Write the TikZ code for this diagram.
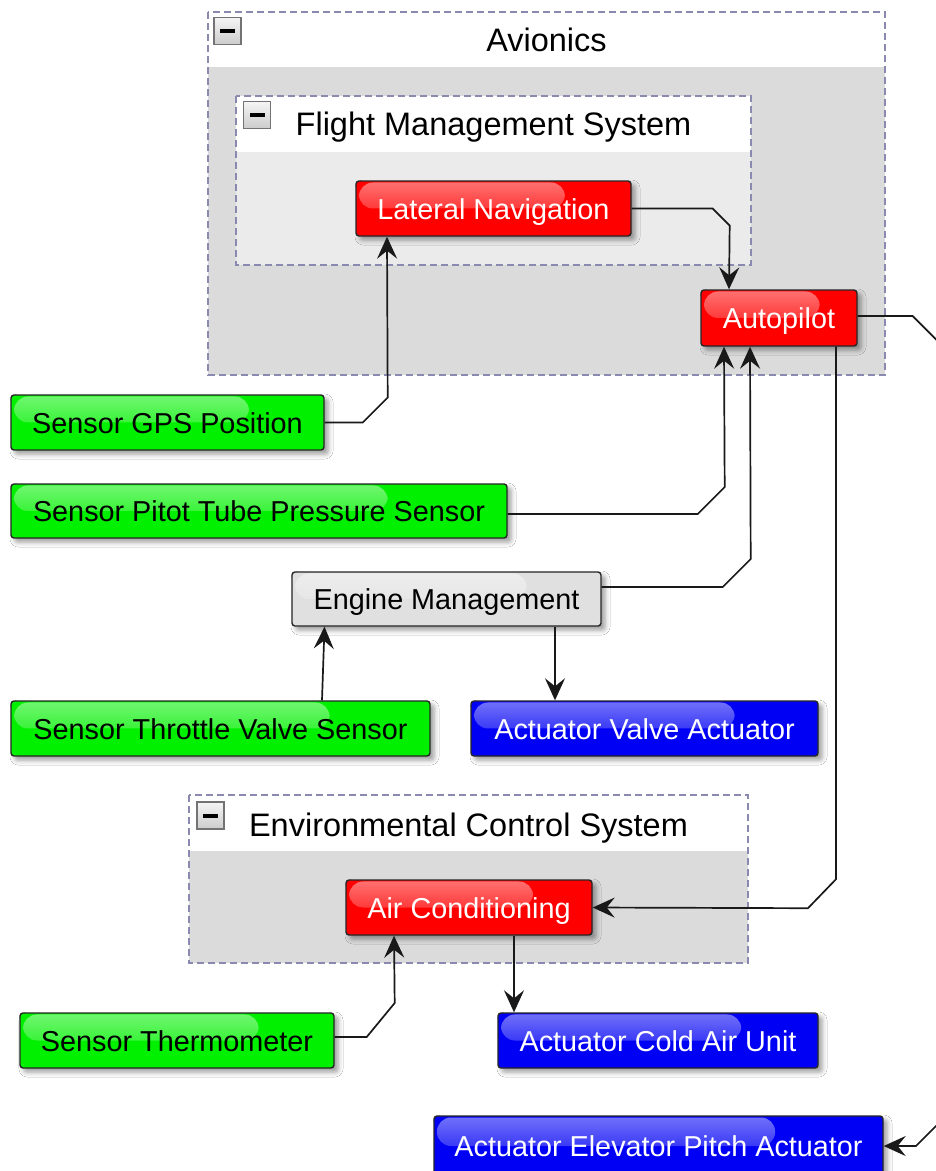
\documentclass[tikz,border=0pt]{standalone}
\usepackage{fontspec}
\setmainfont{Liberation Sans}
\usetikzlibrary{arrows.meta,calc,fadings,shadows.blur}

\tikzfading[name=glossfade, top color=transparent!55, bottom color=transparent!100]

% white glossy highlight across the upper left part of a box
\newcommand{\glossfill}{%
  \fill[white, path fading=glossfade, rounded corners=14pt]
    let \p1=(path picture bounding box.north west),
        \p2=(path picture bounding box.south east) in
    (\x1+3pt,\y1-1.5pt) rectangle ({\x1+0.76*(\x2-\x1)},{\y1+0.5*(\y2-\y1)});}

\tikzset{
  box/.style={rectangle, rounded corners=3pt, draw=black!85, line width=1.4pt,
    inner sep=0pt, minimum height=55pt, text height=21pt, text depth=0pt,
    font=\fontsize{28.8}{34}\selectfont,
    blur shadow={shadow xshift=4pt, shadow yshift=-4pt, shadow blur radius=5pt, shadow opacity=40},
    path picture={\glossfill}},
  redbox/.style={box, fill=red, text=white},
  greenbox/.style={box, fill={rgb,255:red,0;green,240;blue,0}, text=black},
  bluebox/.style={box, fill={rgb,255:red,0;green,0;blue,245}, text=white},
  graybox/.style={box, fill=black!12, text=black},
  groupframe/.style={draw={rgb,255:red,138;green,138;blue,176}, line width=1.3pt,
    dash pattern=on 7pt off 4pt},
  grouptitle/.style={font=\fontsize{32.5}{38}\selectfont, text=black, inner sep=0pt,
    text height=23.3pt, text depth=0pt},
  minusicon/.style={rectangle, minimum size=27pt, inner sep=0pt, line width=1.2pt,
    draw=black!55, top color=black!4, bottom color=black!20,
    path picture={\fill[black]
      ([xshift=-7.5pt,yshift=-2pt]path picture bounding box.center) rectangle
      ([xshift=7.5pt,yshift=2pt]path picture bounding box.center);}},
  conn/.style={line width=1.7pt, black!90,
    -{Stealth[length=22pt, width=20pt, inset=8pt]}}
}

\begin{document}
\begin{tikzpicture}[x=1pt,y=-1pt]
\useasboundingbox (0,0) rectangle (936,1171);
\clip (0,0) rectangle (936,1171);
\fill[white] (0,0) rectangle (936,1171);

% ---- Avionics group
\fill[black!14] (208,12) rectangle (885,375);
\fill[white] (208,12) rectangle (885,67);
\draw[groupframe] (208,12) rectangle (885,375);
\node[grouptitle] (avtitle) at (546.5,40) {Avionics};
\node[minusicon] (avicon) at (227.5,31) {};

% ---- Flight Management System group
\fill[black!8] (236,96) rectangle (751,265);
\fill[white] (236,96) rectangle (751,152);
\draw[groupframe] (236,96) rectangle (751,265);
\node[grouptitle] (fmstitle) at (493.5,124) {Flight Management System};
\node[minusicon] (fmsicon) at (257,115) {};

% ---- Environmental Control System group
\fill[black!14] (189,795) rectangle (748,963);
\fill[white] (189,795) rectangle (748,851);
\draw[groupframe] (189,795) rectangle (748,963);
\node[grouptitle] (ecstitle) at (468.5,825) {Environmental Control System};
\node[minusicon] (ecsicon) at (210.5,815.5) {};

% ---- components
\node[redbox, minimum width=275pt] (latnav) at (493.5,208.5) {Lateral Navigation};
\node[redbox, minimum width=156pt, minimum height=56pt] (autopilot) at (779,318) {Autopilot};
\node[greenbox, minimum width=313pt] (gps) at (167.5,422.5) {Sensor GPS Position};
\node[greenbox, minimum width=496pt, minimum height=54pt] (pitot) at (259,511) {Sensor Pitot Tube Pressure Sensor};
\node[graybox, minimum width=309pt, minimum height=54pt] (engine) at (446.5,599) {Engine Management};
\node[greenbox, minimum width=419pt] (throttle) at (220.5,728.5) {Sensor Throttle Valve Sensor};
\node[bluebox, minimum width=347pt] (valveact) at (644.5,728.5) {Actuator Valve Actuator};
\node[redbox, minimum width=246pt] (aircond) at (469,907.5) {Air Conditioning};
\node[greenbox, minimum width=314pt] (thermo) at (177,1040.5) {Sensor Thermometer};
\node[bluebox, minimum width=320pt] (coldair) at (658,1040.5) {Actuator Cold Air Unit};
\node[bluebox, minimum width=449pt, minimum height=60pt] (elevator) at (658.5,1146) {Actuator Elevator Pitch Actuator};

% ---- connectors
\draw[conn] (latnav.east) -- ++(81,0) -- ++(17,17) -- ([xshift=-50pt]autopilot.north);
\draw[conn] (gps.east) -- ++(38,0) -- ++(25,-25) -- ([xshift=-106.5pt]latnav.south);
\draw[conn] ([yshift=-3pt]pitot.east) -- ++(190,0) -- ++(27,-27) -- ([xshift=-55pt]autopilot.south);
\draw[conn] ([yshift=12pt]engine.east) -- ++(121,0) -- ++(28,-28) -- ([xshift=-29pt]autopilot.south);
\draw[conn] ([xshift=57pt]autopilot.south) -- ++(0,532.5) -- ++(-28,29) -- (aircond.east);
\draw[conn] ([yshift=2pt]autopilot.east) -- ++(55,0) -- ++(38,38) -- (950,1112) -- (916,1146) -- (elevator.east);
\draw[conn] ([xshift=108.5pt]engine.south) -- ([xshift=-89.5pt]valveact.north);
\draw[conn] ([xshift=101.5pt]throttle.north) -- ([xshift=-122pt]engine.south);
\draw[conn] ([yshift=3.5pt]thermo.east) -- ++(32,0) -- ++(28,-34) -- ([xshift=-75pt]aircond.south);
\draw[conn] ([xshift=45pt]aircond.south) -- ([xshift=-144pt]coldair.north);
\end{tikzpicture}
\end{document}
